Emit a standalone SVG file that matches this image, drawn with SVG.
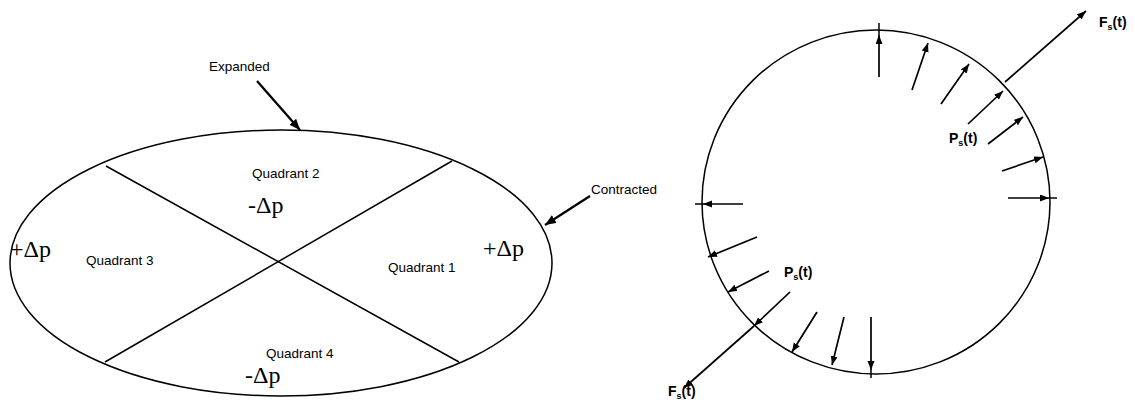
<svg xmlns="http://www.w3.org/2000/svg" width="1135" height="405" viewBox="0 0 1135 405">
<style>
.shape{fill:none;stroke:#000;stroke-width:1.5}
.ln{stroke:#000;stroke-width:1.5;fill:none}
.arw{stroke:#000;stroke-width:1.7;fill:none;marker-end:url(#ah)}
.big{stroke:#000;stroke-width:2.3;fill:none;marker-end:url(#ahb)}
.lab{font-family:"Liberation Sans",Arial,sans-serif;font-size:13.5px;fill:#000}
.dp{font-family:"Liberation Serif","Times New Roman",serif;font-size:24px;fill:#000}
.fl{font-family:"Liberation Sans",Arial,sans-serif;font-size:14px;font-weight:bold;fill:#000}
.sub{font-size:9px}
</style>
<defs>
<marker id="ah" markerUnits="userSpaceOnUse" markerWidth="12" markerHeight="10" refX="9" refY="3.5" orient="auto">
<path d="M0,0 L9,3.5 L0,7 Z" fill="#000"/>
</marker>
<marker id="ahb" markerUnits="userSpaceOnUse" markerWidth="14" markerHeight="12" refX="11" refY="4.5" orient="auto">
<path d="M0,0 L11,4.5 L0,9 Z" fill="#000"/>
</marker>
</defs>

<g id="ellipse-node">
<ellipse class="shape" cx="281" cy="263" rx="271" ry="133"/>
<line class="ln" x1="106" y1="166" x2="459" y2="362"/>
<line class="ln" x1="105" y1="362" x2="452" y2="161"/>
<text class="lab" x="252" y="178">Quadrant 2</text>
<text class="lab" x="86" y="265">Quadrant 3</text>
<text class="lab" x="388" y="272">Quadrant 1</text>
<text class="lab" x="266" y="358">Quadrant 4</text>
<text class="dp" x="248" y="213">-Δp</text>
<text class="dp" x="10" y="257">+Δp</text>
<text class="dp" x="483" y="256">+Δp</text>
<text class="dp" x="245" y="383">-Δp</text>
</g>

<g id="expanded-label">
<text class="lab" x="209" y="71">Expanded</text>
</g>
<g id="contracted-label">
<text class="lab" x="591" y="194">Contracted</text>
</g>

<g id="circle-node">
<ellipse class="shape" cx="876" cy="202" rx="174" ry="172"/>
<text class="fl" x="1099" y="27">F<tspan class="sub" dy="3">s</tspan><tspan dy="-3">(t)</tspan></text>
<text class="fl" x="949" y="143">P<tspan class="sub" dy="3">s</tspan><tspan dy="-3">(t)</tspan></text>
<text class="fl" x="784" y="277">P<tspan class="sub" dy="3">s</tspan><tspan dy="-3">(t)</tspan></text>
<text class="fl" x="668" y="396">F<tspan class="sub" dy="3">s</tspan><tspan dy="-3">(t)</tspan></text>
</g>

<g id="connectors">
<line class="big" x1="257" y1="81" x2="300" y2="130"/>
<line class="big" x1="590" y1="196" x2="545" y2="225"/>

<line class="arw" x1="879" y1="77" x2="879" y2="35"/>
<line class="ln" x1="879" y1="35" x2="879" y2="23"/>
<line class="arw" x1="1008" y1="198" x2="1049" y2="198"/>
<line class="ln" x1="1049" y1="198" x2="1057" y2="198"/>
<line class="arw" x1="743" y1="204" x2="703" y2="204"/>
<line class="ln" x1="703" y1="204" x2="695" y2="204"/>
<line class="arw" x1="871" y1="317" x2="871" y2="370"/>
<line class="ln" x1="871" y1="370" x2="871" y2="378"/>

<line class="arw" x1="912" y1="90" x2="928" y2="43"/>
<line class="arw" x1="941" y1="104" x2="969" y2="64"/>
<line class="arw" x1="968" y1="124" x2="1003" y2="91"/>
<line class="arw" x1="988" y1="144" x2="1023" y2="117"/>
<line class="arw" x1="1002" y1="171" x2="1043" y2="157"/>
<line class="arw" x1="1005" y1="82" x2="1086" y2="11"/>

<line class="arw" x1="757" y1="237" x2="708" y2="257"/>
<line class="arw" x1="769" y1="271" x2="728" y2="292"/>
<line class="arw" x1="790" y1="292" x2="754" y2="326"/>
<line class="arw" x1="754" y1="326" x2="684" y2="388"/>
<line class="arw" x1="817" y1="312" x2="792" y2="352"/>
<line class="arw" x1="844" y1="317" x2="832" y2="365"/>
</g>
</svg>
